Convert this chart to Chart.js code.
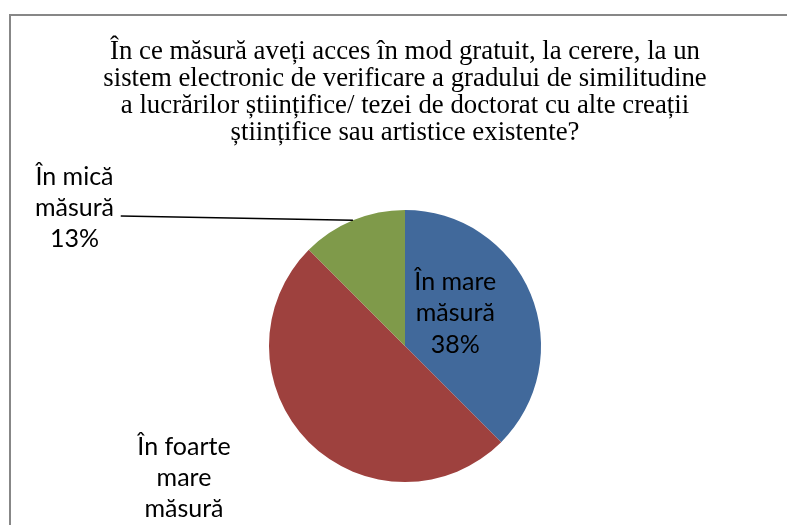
<!DOCTYPE html>
<html>
<head>
<meta charset="utf-8">
<script src="https://cdn.jsdelivr.net/npm/chart.js@4.4.0/dist/chart.umd.min.js"></script>
<style>
  html, body { margin: 0; padding: 0; background: #ffffff; }
  #wrap { width: 787px; height: 525px; position: relative; overflow: hidden; }
</style>
</head>
<body>
<div id="wrap"><canvas id="c" width="787" height="525"></canvas></div>
<script>
// ---- data ----
const titleLines = [
  "În ce măsură aveți acces în mod gratuit, la cerere, la un",
  "sistem electronic de verificare a gradului de similitudine",
  "a lucrărilor științifice/ tezei de doctorat cu alte creații",
  "științifice sau artistice existente?"
];
const categories = ["În mare măsură", "În foarte mare măsură", "În mică măsură"];
const labelLines = [
  ["În mare", "măsură"],
  ["În foarte", "mare", "măsură"],
  ["În mică", "măsură"]
];
const values = [37.5, 50, 12.5];
const colors = ["#41699B", "#9E413E", "#7F9A4A"];

// label placement (fractions of radius, relative to pie centre) - style only
const labelPos = [
  { dx: 0.37, dy: -0.41, outside: false },
  { dx: -1.625, dy: 0.80, outside: false },
  { dx: -2.43, dy: -1.185, outside: true, leaderFromX: -2.09, leaderFromY: -0.955 }
];
const labelLineH = 31.2;

const framePlugin = {
  id: 'frame',
  beforeDraw(chart) {
    const ctx = chart.ctx;
    ctx.save();
    ctx.fillStyle = '#ffffff';
    ctx.fillRect(0, 0, chart.width, chart.height);
    ctx.strokeStyle = '#878787';
    ctx.lineWidth = 2;
    ctx.strokeRect(10, 15, 1200, 1200);
    ctx.restore();
  }
};

const labelPlugin = {
  id: 'sliceLabels',
  afterDatasetsDraw(chart) {
    const ctx = chart.ctx;
    const meta = chart.getDatasetMeta(0);
    const total = values.reduce((a, b) => a + b, 0);
    ctx.save();
    ctx.font = '25px "Lato"';
    ctx.fillStyle = '#000000';
    ctx.textAlign = 'center';
    ctx.textBaseline = 'alphabetic';
    meta.data.forEach((arc, i) => {
      const p = arc.getProps(['x', 'y', 'startAngle', 'endAngle', 'outerRadius'], true);
      const R = p.outerRadius;
      const pos = labelPos[i];
      const lines = labelLines[i].concat([Math.round(values[i] / total * 100) + '%']);
      const x = p.x + pos.dx * R;
      const y0 = p.y + pos.dy * R;
      lines.forEach((t, k) => ctx.fillText(t, x, y0 + k * labelLineH));
      if (pos.outside) {
        const mid = (p.startAngle + p.endAngle) / 2;
        const ex = p.x + Math.cos(mid) * R;
        const ey = p.y + Math.sin(mid) * R;
        ctx.beginPath();
        ctx.strokeStyle = '#000000';
        ctx.lineWidth = 1.5;
        ctx.moveTo(p.x + pos.leaderFromX * R, p.y + pos.leaderFromY * R);
        ctx.lineTo(ex, ey);
        ctx.stroke();
      }
    });
    ctx.restore();
  }
};

new Chart(document.getElementById('c'), {
  type: 'pie',
  data: {
    labels: categories,
    datasets: [{
      data: values,
      backgroundColor: colors,
      borderWidth: 0,
      hoverOffset: 0
    }]
  },
  options: {
    responsive: false,
    animation: false,
    events: [],
    layout: { padding: { left: 23, right: 0, top: 0, bottom: 43 } },
    plugins: {
      legend: { display: false },
      tooltip: { enabled: false },
      title: {
        display: true,
        text: titleLines,
        color: '#000000',
        font: { family: '"Liberation Serif"', size: 26.8, weight: 'normal', lineHeight: 1.01 },
        padding: { top: 38, bottom: 63.7 }
      }
    }
  },
  plugins: [framePlugin, labelPlugin]
});
</script>
</body>
</html>
